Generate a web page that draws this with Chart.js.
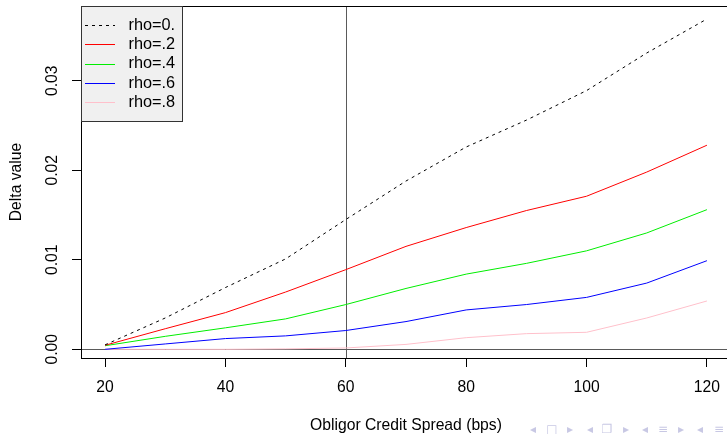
<!DOCTYPE html>
<html>
<head>
<meta charset="utf-8">
<script src="https://cdn.jsdelivr.net/npm/chart.js@4/dist/chart.umd.min.js"></script>
<style>
  html, body { margin: 0; padding: 0; background: #fff; overflow: hidden; width: 727px; height: 434px; }
  #wrap { position: absolute; left: 0; top: 0; width: 740px; height: 434px; }
  #nav { position: absolute; top: 422px; left: 0; width: 727px; height: 20px; font-family: "DejaVu Sans", sans-serif; font-size: 12px; color: #c8c8e4; }
  #nav span { position: absolute; top: 0; transform: translateX(-50%); }
</style>
</head>
<body>
<div id="wrap"><canvas id="c" width="740" height="434"></canvas></div>
<div id="nav">
  <span style="left:533px">◂</span><span style="left:552px">□</span><span style="left:570px">▸</span>
  <span style="left:590px">◂</span><span style="left:607px">❐</span><span style="left:626px">▸</span>
  <span style="left:645px">◂</span><span style="left:663px">≡</span><span style="left:681px">▸</span>
  <span style="left:700px">◂</span><span style="left:719px">≡</span>
</div>
<script>
// ---- data ----
const spreads = [20, 30, 40, 50, 60, 70, 80, 90, 100, 110, 120];
const rho0 = [0.0005, 0.0035, 0.0069, 0.0101, 0.0145, 0.0188, 0.0226, 0.0256, 0.0289, 0.0331, 0.0369];
const rho2 = [0.00045, 0.0023, 0.0041, 0.0064, 0.0089, 0.0115, 0.0136, 0.0155, 0.0171, 0.0198, 0.0228];
const rho4 = [0.0004, 0.00145, 0.0024, 0.0034, 0.0050, 0.0068, 0.0084, 0.0096, 0.0110, 0.0130, 0.0156];
const rho6 = [0.0000, 0.0006, 0.0012, 0.0015, 0.0021, 0.0031, 0.0044, 0.0050, 0.0058, 0.0074, 0.0099];
const rho8 = [0.0000, 0.0000, 0.0000, 0.00005, 0.00015, 0.00055, 0.0013, 0.00175, 0.0019, 0.0035, 0.0054];
const seriesLabels = ["rho=0.", "rho=.2", "rho=.4", "rho=.6", "rho=.8"];
const xTicks = [20, 40, 60, 80, 100, 120];
const yTicks = [0, 0.01, 0.02, 0.03];
const yTickLabels = ["0.00", "0.01", "0.02", "0.03"];
const xTitle = "Obligor Credit Spread (bps)";
const yTitle = "Delta value";
const hLineValue = 0;
const vLineValue = 60;

const FONT = '"Liberation Sans", Arial, Helvetica, sans-serif';

function pts(arr) { return spreads.map((x, i) => ({ x: x, y: arr[i] })); }

const styles = [
  { color: '#000000', dash: [3, 4] },
  { color: '#ff0000', dash: [] },
  { color: '#00ee00', dash: [] },
  { color: '#0000ff', dash: [] },
  { color: '#ffc0cb', dash: [] }
];
const allSeries = [rho0, rho2, rho4, rho6, rho8];

const datasets = allSeries.map((s, i) => ({
  label: seriesLabels[i],
  data: pts(s),
  borderColor: styles[i].color,
  borderDash: styles[i].dash,
  borderWidth: 1,
  pointRadius: 0,
  tension: 0,
  fill: false
}));

const refLines = {
  id: 'refLines',
  beforeDatasetsDraw(chart) {
    const { ctx, chartArea: a, scales: { x, y } } = chart;
    ctx.save();
    ctx.strokeStyle = '#5a5a5a';
    ctx.lineWidth = 1;
    const py = Math.round(y.getPixelForValue(hLineValue)) + 0.5;
    ctx.beginPath(); ctx.moveTo(a.left, py); ctx.lineTo(a.right, py); ctx.stroke();
    const px = Math.round(x.getPixelForValue(vLineValue)) + 0.5;
    ctx.beginPath(); ctx.moveTo(px, a.top); ctx.lineTo(px, a.bottom); ctx.stroke();
    ctx.restore();
  },
  afterDatasetsDraw(chart) {
    const { ctx, chartArea: a } = chart;
    ctx.save();
    // box
    ctx.strokeStyle = '#000';
    ctx.lineWidth = 1;
    ctx.strokeRect(a.left + 0.5, a.top + 0.5, a.right - a.left, a.bottom - a.top);
    // legend
    const lx = a.left, ly = a.top, lw = 101, lh = 115;
    ctx.fillStyle = '#f0f0f0';
    ctx.fillRect(lx, ly, lw, lh);
    ctx.strokeStyle = '#333';
    ctx.strokeRect(lx + 0.5, ly + 0.5, lw, lh);
    ctx.font = '16.3px ' + FONT;
    ctx.textBaseline = 'middle';
    ctx.textAlign = 'left';
    chart.data.datasets.forEach((ds, i) => {
      const yy = ly + 19.3 + i * 19.1;
      ctx.strokeStyle = ds.borderColor;
      ctx.setLineDash(ds.borderDash || []);
      ctx.lineWidth = 1;
      ctx.beginPath(); ctx.moveTo(lx + 4, Math.round(yy) + 0.5); ctx.lineTo(lx + 34, Math.round(yy) + 0.5); ctx.stroke();
      ctx.setLineDash([]);
      ctx.fillStyle = '#000';
      ctx.fillText(ds.label, lx + 47.5, yy + 0.5);
    });
    ctx.restore();
  }
};

new Chart(document.getElementById('c'), {
  type: 'line',
  data: { datasets: datasets },
  options: {
    responsive: false,
    animation: false,
    devicePixelRatio: 1,
    layout: { padding: { left: 0, top: 6, right: 9, bottom: 0 } },
    plugins: { legend: { display: false }, tooltip: { enabled: false } },
    scales: {
      x: {
        type: 'linear',
        min: 16, max: 124,
        afterBuildTicks: (s) => { s.ticks = xTicks.map(v => ({ value: v })); },
        afterFit: (s) => { s.height = 76; s.paddingLeft = 0; s.paddingRight = 0; },
        grid: { drawOnChartArea: false, drawTicks: true, tickLength: 9, color: '#000', tickWidth: 1 },
        border: { display: true, color: '#000', width: 1 },
        ticks: { color: '#000', font: { family: FONT, size: 15.7 }, padding: 11, maxRotation: 0, minRotation: 0 },
        title: { display: true, text: xTitle, color: '#000', font: { family: FONT, size: 15.7, lineHeight: 1 }, padding: { top: 0, bottom: 0 } }
      },
      y: {
        type: 'linear',
        min: -0.00097, max: 0.03835,
        afterBuildTicks: (s) => { s.ticks = yTicks.map(v => ({ value: v })); },
        afterFit: (s) => { s.width = 81; s.paddingTop = 0; s.paddingBottom = 0; },
        grid: { drawOnChartArea: false, drawTicks: true, tickLength: 9, color: '#000', tickWidth: 1 },
        border: { display: true, color: '#000', width: 1 },
        ticks: {
          color: '#000', font: { family: FONT, size: 15.7 }, padding: 4,
          minRotation: 90, maxRotation: 90, crossAlign: 'center',
          callback: (v) => { const i = yTicks.indexOf(v); return i >= 0 ? yTickLabels[i] : ''; }
        },
        title: { display: true, text: yTitle, color: '#000', font: { family: FONT, size: 15.7, lineHeight: 1.2 }, padding: { top: 7, bottom: 0 } }
      }
    }
  },
  plugins: [refLines]
});
</script>
</body>
</html>
